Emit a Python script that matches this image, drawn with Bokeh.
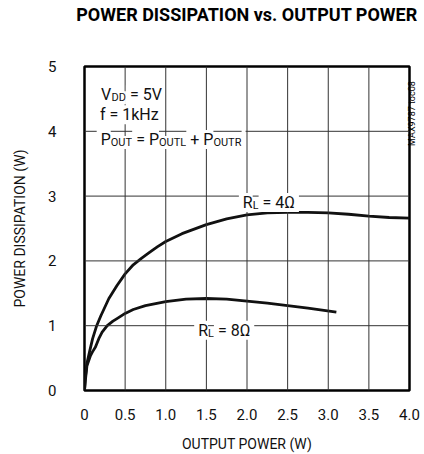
import math
from bokeh.plotting import figure
from bokeh.models import Range1d, FixedTicker, Label, Span, CustomJSTickFormatter, LinearAxis
from bokeh.embed import file_html
from bokeh.resources import INLINE

# ---- data ----
x_4ohm = [0, 0.01, 0.03, 0.066, 0.1, 0.15, 0.2, 0.3, 0.4, 0.5, 0.6, 0.7, 0.8, 0.9, 1.0,
          1.2, 1.5, 1.75, 2.0, 2.25, 2.5, 2.75, 3.0, 3.25, 3.5, 3.75, 4.0]
y_4ohm = [0, 0.20, 0.42, 0.62, 0.80, 1.00, 1.15, 1.42, 1.62, 1.80, 1.94, 2.04, 2.13, 2.22, 2.30,
          2.42, 2.56, 2.65, 2.71, 2.74, 2.75, 2.75, 2.74, 2.72, 2.69, 2.67, 2.66]

x_8ohm = [0, 0.01, 0.03, 0.074, 0.1, 0.135, 0.176, 0.217, 0.28, 0.35, 0.4, 0.5, 0.6, 0.75,
          1.0, 1.25, 1.5, 1.75, 2.0, 2.25, 2.5, 2.75, 3.1]
y_8ohm = [0, 0.15, 0.38, 0.54, 0.60, 0.67, 0.80, 0.90, 1.00, 1.07, 1.11, 1.19, 1.25, 1.31,
          1.37, 1.41, 1.42, 1.41, 1.38, 1.35, 1.31, 1.27, 1.21]

x_ticks = [0, 0.5, 1.0, 1.5, 2.0, 2.5, 3.0, 3.5, 4.0]
y_ticks = [0, 1, 2, 3, 4, 5]

TITLE = "POWER DISSIPATION vs. OUTPUT POWER"
FIG_ID = "MAX9787 toc08"

FONT = "Roboto"
NB = "\u00a0"

p = figure(width=424, height=454, output_backend="svg", toolbar_location=None,
           x_range=Range1d(0, 4), y_range=Range1d(0, 5),
           min_border_left=84, min_border_right=14, min_border_top=66, min_border_bottom=62)

p.outline_line_color = "black"
p.outline_line_width = 2.5
p.grid.visible = False

for ax in (p.xaxis[0], p.yaxis[0]):
    ax.axis_line_color = None
    ax.major_tick_line_color = None
    ax.minor_tick_line_color = None
    ax.major_label_text_font = FONT
    ax.major_label_text_font_size = "15px"
    ax.major_label_text_color = "#111111"
    ax.axis_label_text_font = FONT
    ax.axis_label_text_font_size = "14px"
    ax.axis_label_text_font_style = "normal"
    ax.axis_label_text_color = "#111111"

p.xaxis.ticker = FixedTicker(ticks=x_ticks)
p.yaxis.ticker = FixedTicker(ticks=y_ticks)
p.xaxis.formatter = CustomJSTickFormatter(code="return tick == 0 ? '0' : tick.toFixed(1);")
p.xaxis.major_label_standoff = 12
p.yaxis.major_label_standoff = 22
p.xaxis.axis_label = "OUTPUT POWER (W)"
p.yaxis.axis_label = "POWER DISSIPATION (W)"
p.xaxis.axis_label_standoff = 13
p.yaxis.axis_label_standoff = 17


def bare_axis(**kw):
    return LinearAxis(ticker=FixedTicker(ticks=[]), axis_line_color=None,
                      major_tick_line_color=None, minor_tick_line_color=None,
                      major_tick_in=0, major_tick_out=0, major_label_standoff=0,
                      major_label_text_font_size="1px", axis_label_text_font=FONT,
                      axis_label_text_color="#000000", **kw)


# chart title, as the label of a bare axis above the frame
p.add_layout(bare_axis(axis_label=TITLE, axis_label_standoff=42,
                       axis_label_text_font_size="18px",
                       axis_label_text_font_style="bold"), "above")

# figure id on the right side, reading bottom-to-top near the top of the frame
p.add_layout(bare_axis(axis_label=NB * 37 + FIG_ID, axis_label_standoff=2,
                       axis_label_orientation=math.pi / 2,
                       axis_label_text_font_size="9px",
                       axis_label_text_font_style="normal"), "right")

# grid lines drawn from the tick arrays
for t in x_ticks[1:-1]:
    p.add_layout(Span(location=t, dimension="height", line_color="#333333", line_width=1))
for t in y_ticks[1:-1]:
    p.add_layout(Span(location=t, dimension="width", line_color="#333333", line_width=1))

p.line(x_4ohm, y_4ohm, line_color="#111111", line_width=2.8, line_join="round")
p.line(x_8ohm, y_8ohm, line_color="#111111", line_width=2.8, line_join="round")

# ---- rich text helper (subscripts as separate pieces) ----
W = {"V": 652, "D": 655, "O": 689, "U": 647, "T": 611, "P": 631, "L": 537, "R": 616,
     " ": 248, NB: 248, "=": 549, "+": 567, "5": 562, "4": 562, "8": 562, "f": 347, "1": 562,
     "k": 507, "H": 713, "z": 496, "Ω": 680}
MAIN = 16
SUB = 11


def text_width(s, size):
    return sum(W.get(c, 560) for c in s) * size / 1000.0


def rich(x, y, pieces):
    off = 0.0
    for txt, sub in pieces:
        size = SUB if sub else MAIN
        shown = txt.replace(" ", NB)
        p.add_layout(Label(x=x, y=y, x_offset=off, y_offset=-3 if sub else 0, text=shown,
                           text_font=FONT, text_font_size=f"{size}px", text_color="#111111",
                           text_baseline="alphabetic", text_align="left",
                           background_fill_color="white", background_fill_alpha=1.0))
        off += text_width(txt, size)


rich(0.204, 4.565, [("V", False), ("DD", True), (" = 5V", False)])
rich(0.19, 4.257, [("f = 1kHz", False)])
rich(0.15, 3.873, [(" P", False), ("OUT", True), (" = P", False), ("OUTL", True),
                   (" + P", False), ("OUTR", True), (" ", False)])
rich(1.90, 2.90, [(" R", False), ("L", True), (" = 4Ω ", False)])
rich(1.35, 0.93, [(" R", False), ("L", True), (" = 8Ω ", False)])

open("out.html", "w").write(file_html(p, INLINE))
